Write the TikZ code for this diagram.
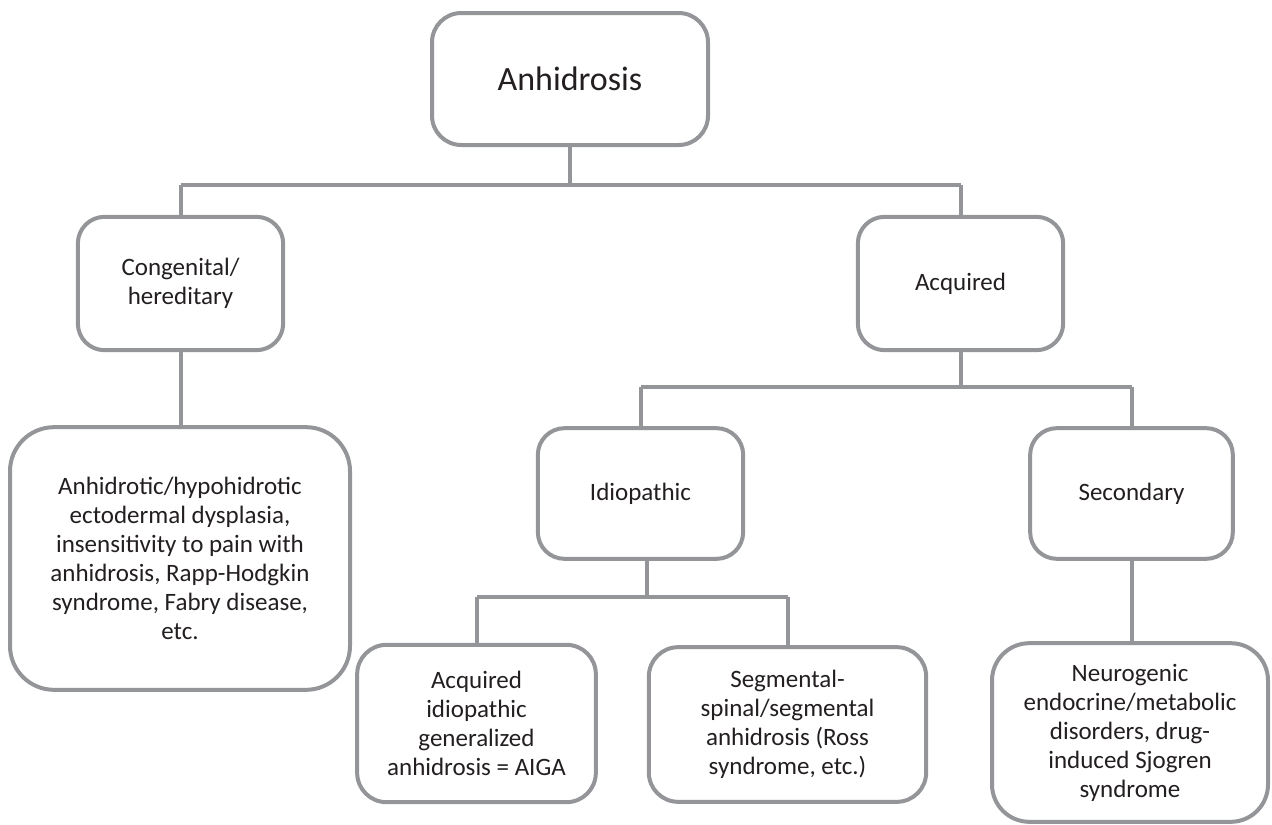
\documentclass[tikz,border=0pt]{standalone}
\usepackage{fontspec}
\setmainfont{Carlito}
\definecolor{linegray}{HTML}{939598}
\definecolor{txt}{HTML}{231F20}
\begin{document}
\begin{tikzpicture}[x=0.75pt,y=-0.75pt,
  box/.style={draw=linegray, line width=3pt, rounded corners=22pt, fill=white,
    align=center, text=txt, inner sep=0pt,
    font=\fontsize{18.75pt}{21.75pt}\selectfont},
  link/.style={draw=linegray, line width=3pt}]
\useasboundingbox (0,0) rectangle (1272,825);
\node[box, minimum width=207pt, minimum height=99pt, font=\fontsize{25.5pt}{29pt}\selectfont] (root) at (570,79) {Anhidrosis};
\node[box, minimum width=154pt, minimum height=100pt, rounded corners=20pt] (cong) at (180.5,283.5) {Congenital/\\hereditary};
\node[box, minimum width=154pt, minimum height=100pt, rounded corners=20pt] (acq) at (960.5,283.5) {Acquired};
\node[box, minimum width=255pt, minimum height=197pt, rounded corners=33pt] (cli) at (180,558.5) {Anhidrotic/hypohidrotic\\ectodermal dysplasia,\\insensitivity to pain with\\anhidrosis, Rapp-Hodgkin\\syndrome, Fabry disease,\\etc.};
\node[box, minimum width=154pt, minimum height=98pt, rounded corners=20pt] (idio) at (640.5,493.5) {Idiopathic};
\node[box, minimum width=152pt, minimum height=98pt, rounded corners=20pt] (sec) at (1131.5,493.5) {Secondary};
\node[box, minimum width=179pt, minimum height=118pt, rounded corners=22pt] (aiga) at (476.5,723.5) {Acquired\\idiopathic\\generalized\\anhidrosis = AIGA};
\node[box, minimum width=208pt, minimum height=116pt, rounded corners=22pt] (ross) at (787.5,724.5) {Segmental-\\spinal/segmental\\anhidrosis (Ross\\syndrome, etc.)};
\node[box, minimum width=207pt, minimum height=134pt, rounded corners=28pt] (neuro) at (1130,732.5) {Neurogenic\\endocrine/metabolic\\disorders, drug-\\induced Sjogren\\syndrome};
\draw[link] (root.south) -- ++(0,38) coordinate (j1);
\draw[link] (j1 -| cong.north) -- (j1 -| acq.north);
\draw[link] (j1 -| cong.north) -- (cong.north);
\draw[link] (j1 -| acq.north) -- (acq.north);
\draw[link] (cong.south) -- (cong.south |- cli.north);
\draw[link] (acq.south) -- ++(0,35) coordinate (j2);
\draw[link] (j2 -| idio.north) -- (j2 -| sec.north);
\draw[link] (j2 -| idio.north) -- (idio.north);
\draw[link] (j2 -| sec.north) -- (sec.north);
\draw[link] ([xshift=4.5pt]idio.south) -- ++(0,36) coordinate (j3);
\draw[link] (j3 -| aiga.north) -- (j3 -| ross.north);
\draw[link] (j3 -| aiga.north) -- (aiga.north);
\draw[link] (j3 -| ross.north) -- (ross.north);
\draw[link] (sec.south) -- (sec.south |- neuro.north);
\end{tikzpicture}
\end{document}
